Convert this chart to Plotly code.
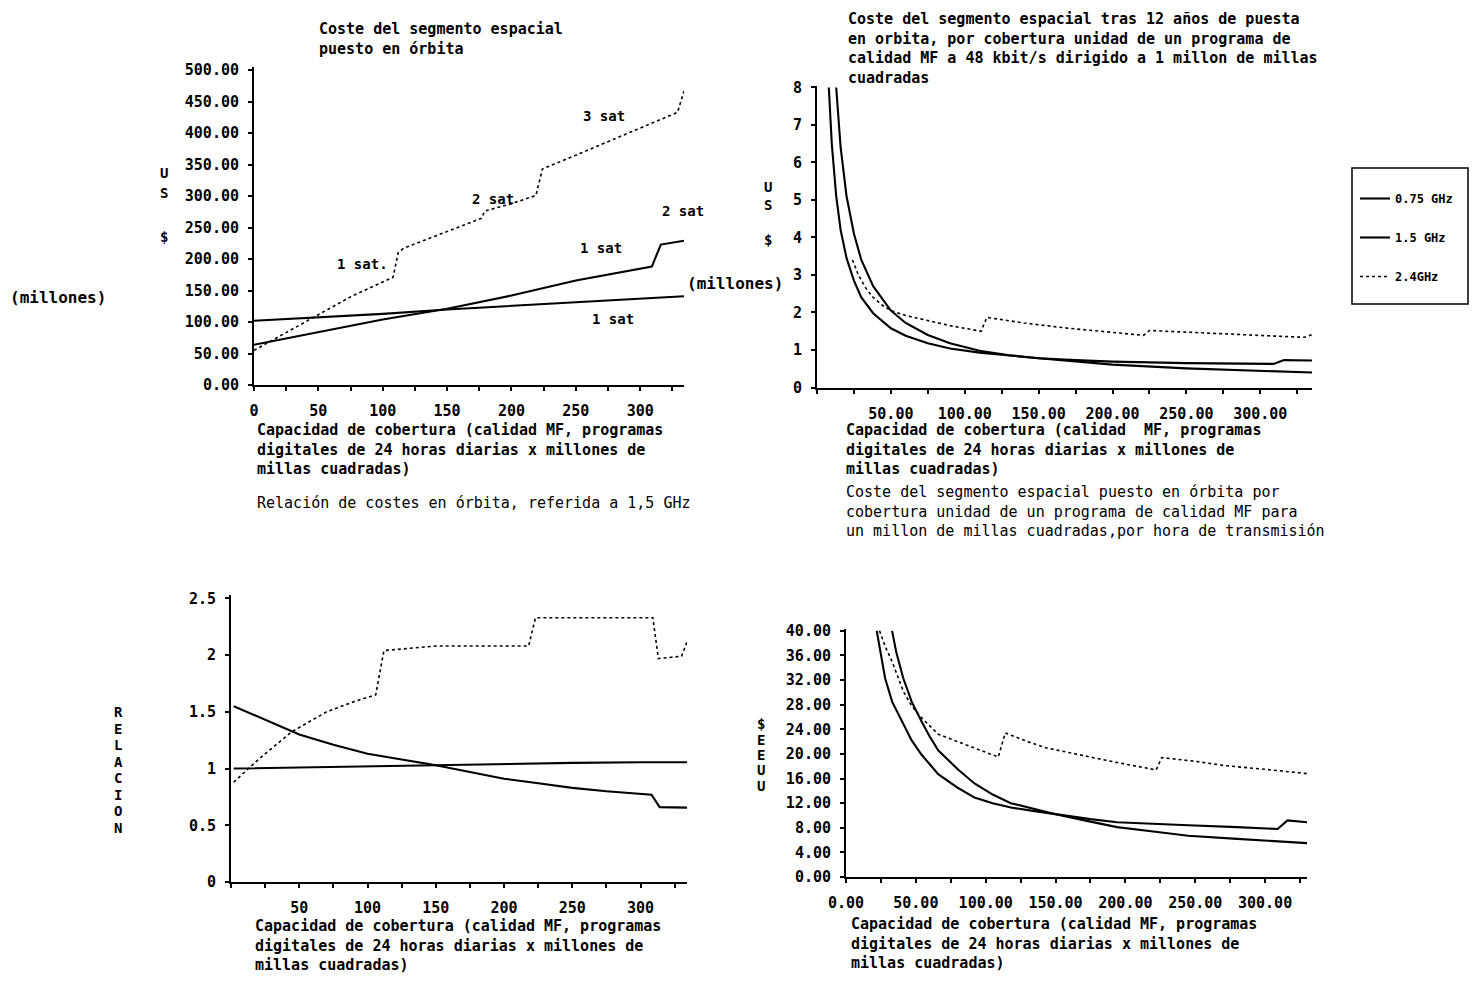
import plotly.graph_objects as go

# ---------------- canvas ----------------
OFF = 8                      # browser body margin
W, H = 1461, 965             # autosized figure size (window minus margins)
MONO = "DejaVu Sans Mono"

# ---------------- data ----------------
series_names = ["0.75 GHz", "1.5 GHz", "2.4GHz"]

# Chart 1: coste del segmento espacial puesto en órbita (millones US$)
c1_x_075 = [0, 50, 100, 150, 200, 250, 300, 334]
c1_y_075 = [102, 107, 113, 120, 126, 131, 137, 141]
c1_x_15 = [0, 50, 100, 150, 200, 250, 309, 316, 334]
c1_y_15 = [64, 84, 104, 121, 142, 166, 188, 223, 229]
c1_x_24 = [0, 25, 50, 75, 108, 112, 116, 150, 177, 179, 200, 219, 224, 250, 300, 329, 334]
c1_y_24 = [55, 83, 112, 140, 171, 210, 217, 244, 265, 276, 288, 301, 343, 365, 408, 433, 467]

# Chart 2: coste tras 12 años por cobertura unidad (US$ millones)
c2_x_075 = [13, 16, 20, 25, 30, 38, 50, 60, 75, 90, 110, 130, 150, 175, 200, 250, 300, 335]
c2_y_075 = [8.0, 6.4, 5.1, 4.1, 3.4, 2.7, 2.05, 1.72, 1.4, 1.18, 0.98, 0.86, 0.78, 0.69, 0.61, 0.51, 0.44, 0.40]
c2_x_15 = [8, 10, 13, 16, 20, 25, 30, 38, 50, 60, 75, 90, 110, 130, 150, 175, 200, 250, 309, 316, 335]
c2_y_15 = [8.0, 6.5, 5.1, 4.2, 3.45, 2.85, 2.4, 1.98, 1.58, 1.38, 1.18, 1.04, 0.93, 0.85, 0.78, 0.73, 0.69, 0.65, 0.63, 0.73, 0.72]
c2_x_24 = [24, 28, 33, 38, 44, 50, 60, 75, 90, 111, 115, 140, 170, 200, 221, 225, 250, 280, 310, 330, 336]
c2_y_24 = [3.4, 3.0, 2.65, 2.4, 2.2, 2.05, 1.92, 1.78, 1.65, 1.5, 1.87, 1.72, 1.58, 1.47, 1.39, 1.52, 1.47, 1.42, 1.37, 1.34, 1.42]

# Chart 3: relación de costes en órbita, referida a 1,5 GHz
c3_x_075 = [2, 25, 50, 75, 100, 125, 150, 175, 200, 225, 250, 275, 308, 314, 335]
c3_y_075 = [1.55, 1.43, 1.30, 1.21, 1.13, 1.08, 1.03, 0.97, 0.91, 0.87, 0.83, 0.80, 0.77, 0.66, 0.655]
c3_x_15 = [2, 50, 100, 150, 200, 250, 300, 335]
c3_y_15 = [1.0, 1.01, 1.02, 1.035, 1.045, 1.05, 1.055, 1.055]
c3_x_24 = [2, 20, 44, 70, 90, 106, 112, 150, 218, 223, 309, 313, 330, 336]
c3_y_24 = [0.88, 1.08, 1.32, 1.50, 1.59, 1.65, 2.04, 2.08, 2.08, 2.33, 2.33, 1.97, 1.99, 2.18]

# Chart 4: coste por hora de transmisión ($ EEUU)
c4_x_075 = [33, 36, 41, 47, 54, 60, 66, 80, 92, 105, 118, 135, 150, 175, 194, 220, 245, 280, 310, 330]
c4_y_075 = [40, 36.5, 32.3, 28.5, 25.3, 22.8, 20.6, 17.5, 15.2, 13.4, 12.0, 11.0, 10.2, 9.0, 8.1, 7.4, 6.7, 6.2, 5.8, 5.5]
c4_x_15 = [22, 25, 28, 33, 41, 47, 54, 66, 80, 92, 105, 118, 135, 150, 175, 194, 220, 245, 280, 309, 316, 330]
c4_y_15 = [40, 36, 32.3, 28.5, 24.8, 22.2, 19.9, 16.7, 14.5, 12.9, 12.0, 11.3, 10.7, 10.2, 9.4, 8.9, 8.6, 8.4, 8.1, 7.8, 9.2, 8.9]
c4_x_24 = [24, 28, 33, 41, 47, 54, 66, 80, 92, 109, 114, 130, 143, 170, 194, 222, 226, 250, 271, 300, 330]
c4_y_24 = [40, 37.5, 35, 30.2, 27.8, 25.9, 23.2, 22.0, 21.0, 19.5, 23.4, 22.0, 21.0, 19.7, 18.6, 17.4, 19.4, 18.8, 18.1, 17.5, 16.8]

# tick labels
x_ticks = list(range(0, 326, 25))
tl_x_text = [str(v) if v % 50 == 0 else "" for v in x_ticks]
tr_x_text = ["%.2f" % v if (v % 50 == 0 and v > 0) else "" for v in x_ticks]
bl_x_text = [str(v) if (v % 50 == 0 and v > 0) else "" for v in x_ticks]
br_x_text = ["%.2f" % v if v % 50 == 0 else "" for v in x_ticks]
tl_y_vals = list(range(0, 501, 50))
tl_y_text = ["%.2f" % v for v in tl_y_vals]
tr_y_vals = list(range(0, 9))
tr_y_text = [str(v) for v in tr_y_vals]
bl_y_vals = [0, 0.5, 1, 1.5, 2, 2.5]
bl_y_text = ["0", "0.5", "1", "1.5", "2", "2.5"]
br_y_vals = list(range(0, 41, 4))
br_y_text = ["%.2f" % v for v in br_y_vals]


def px(x):
    return (x - OFF) / W


def py(y):
    return 1 - (y - OFF) / H


fig = go.Figure()


def add(xs, ys, name, ax, dotted, show=False):
    fig.add_trace(go.Scatter(
        x=xs, y=ys, mode="lines", name=name,
        xaxis="x" + ax, yaxis="y" + ax,
        line=dict(color="black", width=1.6 if dotted else 2.1,
                  dash="dot" if dotted else "solid"),
        showlegend=show, legendgroup=name, hoverinfo="skip"))


add(c1_x_075, c1_y_075, series_names[0], "", False)
add(c1_x_15, c1_y_15, series_names[1], "", False)
add(c1_x_24, c1_y_24, series_names[2], "", True)
add(c2_x_075, c2_y_075, series_names[0], "2", False, True)
add(c2_x_15, c2_y_15, series_names[1], "2", False, True)
add(c2_x_24, c2_y_24, series_names[2], "2", True, True)
add(c3_x_075, c3_y_075, series_names[0], "3", False)
add(c3_x_15, c3_y_15, series_names[1], "3", False)
add(c3_x_24, c3_y_24, series_names[2], "3", True)
add(c4_x_075, c4_y_075, series_names[0], "4", False)
add(c4_x_15, c4_y_15, series_names[1], "4", False)
add(c4_x_24, c4_y_24, series_names[2], "4", True)

tickfont = dict(family=MONO, size=15, color="black", weight="bold")


def axis(dom, rng, vals, texts, anchor, is_x):
    d = [px(dom[0]), px(dom[1])] if is_x else [py(dom[1]), py(dom[0])]
    return dict(domain=d, range=rng, anchor=anchor, tickmode="array",
                tickvals=vals, ticktext=texts, showline=True,
                linecolor="black", linewidth=2, ticks="outside", ticklen=4,
                tickwidth=1.5, tickcolor="black", showgrid=False,
                zeroline=False, tickfont=tickfont, automargin=False,
                ticklabelstandoff=7 if is_x else 6, fixedrange=True)


fig.update_layout(
    xaxis=axis([254, 684], [0, 334], x_ticks, tl_x_text, "y", True),
    yaxis=axis([67, 385], [0, 505], tl_y_vals, tl_y_text, "x", False),
    xaxis2=axis([817, 1312], [0, 335], x_ticks, tr_x_text, "y2", True),
    yaxis2=axis([85.6, 387.5], [0, 8.05], tr_y_vals, tr_y_text, "x2", False),
    xaxis3=axis([231, 687], [0, 334], x_ticks, bl_x_text, "y3", True),
    yaxis3=axis([595, 882], [0, 2.53], bl_y_vals, bl_y_text, "x3", False),
    xaxis4=axis([846, 1307], [0, 330], x_ticks, br_x_text, "y4", True),
    yaxis4=axis([629, 877], [0, 40.3], br_y_vals, br_y_text, "x4", False),
)

# ---------------- texts ----------------
ann = []


def note(text, x, y, size=15, bold=True, xanchor="left", yanchor="middle"):
    ann.append(dict(text=text, x=px(x), y=py(y), xref="paper", yref="paper",
                    xanchor=xanchor, yanchor=yanchor, align="left",
                    showarrow=False, borderpad=0,
                    font=dict(family=MONO, size=size, color="black",
                              weight="bold" if bold else "normal")))


cap = ("Capacidad de cobertura (calidad MF, programas<br>"
       "digitales de 24 horas diarias x millones de<br>"
       "millas cuadradas)")

# top-left
note("Coste del segmento espacial<br>puesto en órbita", 318, 39)
note(cap, 256, 450)
note("Relación de costes en órbita, referida a 1,5 GHz", 256, 503, bold=False)
for t, y in [("U", 173), ("S", 193), ("$", 237)]:
    note(t, 164, y, size=14, xanchor="center")
note("(millones)", 9, 297, size=16)
for t, x, y in [("1 sat.", 336, 264), ("2 sat", 471, 199), ("3 sat", 582, 116),
                ("2 sat", 661, 211), ("1 sat", 579, 248), ("1 sat", 591, 319)]:
    note(t, x, y, size=14)

# top-right
note("Coste del segmento espacial tras 12 años de puesta<br>"
     "en orbita, por cobertura unidad de un programa de<br>"
     "calidad MF a 48 kbit/s dirigido a 1 millon de millas<br>"
     "cuadradas", 847, 8.5, yanchor="top")
for t, y in [("U", 187), ("S", 205), ("$", 240)]:
    note(t, 768, y, size=14, xanchor="center")
note("(millones)", 784, 284, size=16, xanchor="right")
note("Capacidad de cobertura (calidad  MF, programas<br>"
     "digitales de 24 horas diarias x millones de<br>"
     "millas cuadradas)", 845, 449)
note("Coste del segmento espacial puesto en órbita por<br>"
     "cobertura unidad de un programa de calidad MF para<br>"
     "un millon de millas cuadradas,por hora de transmisión",
     845, 511, bold=False)

# bottom-left
for i, ch in enumerate("RELACION"):
    note(ch, 118, 712 + i * 16.5, size=14, xanchor="center")
note(cap, 254, 945)

# bottom-right
for ch, y in zip("$EEUU", [724, 740, 755, 770, 786]):
    note(ch, 761, y, size=14, xanchor="center")
note(cap, 850, 943)

# legend frame
shapes = [dict(type="rect", xref="paper", yref="paper",
               x0=px(1352), x1=px(1468), y0=py(304), y1=py(168),
               line=dict(color="black", width=1.5), fillcolor="rgba(0,0,0,0)")]

fig.update_layout(
    autosize=True,
    margin=dict(l=0, r=0, t=0, b=0, pad=0),
    paper_bgcolor="white", plot_bgcolor="white",
    annotations=ann, shapes=shapes,
    showlegend=True,
    legend=dict(x=px(1355), y=py(184), xanchor="left", yanchor="top",
                bgcolor="rgba(0,0,0,0)", borderwidth=0,
                font=dict(family=MONO, size=12, color="black", weight="bold"),
                tracegroupgap=20, itemwidth=30, traceorder="grouped"),
)

fig.write_html("out.html")
